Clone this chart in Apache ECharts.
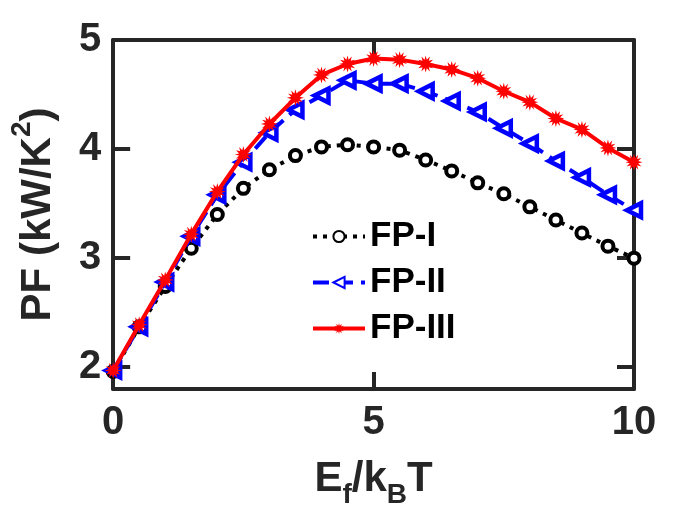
<!DOCTYPE html>
<html>
<head>
<meta charset="utf-8">
<script src="https://cdn.jsdelivr.net/npm/echarts@6/dist/echarts.min.js"></script>
<style>
  html, body { margin: 0; padding: 0; background: #fff; }
  #chart { width: 700px; height: 525px; }
</style>
</head>
<body>
<div id="chart"></div>
<script>
// E_f/k_BT sampling
var xs = [0, 0.5, 1, 1.5, 2, 2.5, 3, 3.5, 4, 4.5, 5, 5.5, 6, 6.5, 7, 7.5, 8, 8.5, 9, 9.5, 10];

// PF values
var fp1 = [1.96, 2.37, 2.74, 3.09, 3.40, 3.64, 3.81, 3.94, 4.02, 4.04, 4.02, 3.99, 3.90, 3.80, 3.69, 3.59, 3.47, 3.35, 3.23, 3.11, 3.00];
var fp2 = [1.97, 2.37, 2.78, 3.20, 3.58, 3.88, 4.15, 4.36, 4.49, 4.63, 4.60, 4.60, 4.53, 4.44, 4.34, 4.19, 4.05, 3.89, 3.74, 3.58, 3.44];
var fp3 = [1.97, 2.39, 2.80, 3.22, 3.61, 3.95, 4.23, 4.47, 4.68, 4.78, 4.83, 4.82, 4.78, 4.73, 4.65, 4.53, 4.43, 4.28, 4.18, 4.01, 3.88];

var xTicks = [0, 5, 10];
var yTicks = [2, 3, 4, 5];

var axisColor = '#262626';
var font = 'Liberation Sans, Arial, sans-serif';

function pairs(ys) {
  return xs.map(function (x, i) { return [x, ys[i]]; });
}

// 12-spike star standing in for the asterisk markers
var starPath = 'path://M20 10 L15 11.3 L18.7 15 L13.7 13.7 L15 18.7 L11.3 15 L10 20 L8.7 15 L5 18.7 L6.3 13.7 L1.3 15 L5 11.3 L0 10 L5 8.7 L1.3 5 L6.3 6.3 L5 1.3 L8.7 5 L10 0 L11.3 5 L15 1.3 L13.7 6.3 L18.7 5 L15 8.7 Z';

function axisBase(pos, showLabel) {
  return {
    type: 'value',
    position: pos,
    axisLine: { show: true, onZero: false, lineStyle: { color: axisColor, width: 4 } },
    axisTick: { show: true, inside: true, length: 17, lineStyle: { color: axisColor, width: 4 } },
    splitLine: { show: false },
    axisLabel: {
      show: showLabel,
      color: axisColor,
      fontFamily: font,
      fontWeight: 'bold',
      fontSize: 40
    }
  };
}

var xBottom = axisBase('bottom', true);
xBottom.min = 0; xBottom.max = 10; xBottom.interval = 5;
xBottom.axisLabel.margin = 14;
xBottom.name = 'E{sub|f}/k{sub|B}T';
xBottom.nameLocation = 'middle';
xBottom.nameGap = 60;
xBottom.nameTextStyle = {
  color: axisColor, fontFamily: font, fontWeight: 'bold', fontSize: 42, lineHeight: 60,
  rich: {
    sub: { fontFamily: font, fontWeight: 'bold', fontSize: 28, lineHeight: 28, verticalAlign: 'bottom', color: axisColor }
  }
};

var xTop = axisBase('top', false);
xTop.min = 0; xTop.max = 10; xTop.interval = 5;

var yLeft = axisBase('left', true);
yLeft.min = 1.8; yLeft.max = 5;
yLeft.axisTick.customValues = yTicks;
yLeft.axisLabel.customValues = yTicks;
yLeft.axisLabel.margin = 12;
yLeft.name = 'PF (kW/K{sup|2})';
yLeft.nameLocation = 'middle';
yLeft.nameGap = 30;
yLeft.nameTextStyle = {
  color: axisColor, fontFamily: font, fontWeight: 'bold', fontSize: 42, lineHeight: 60,
  rich: {
    sup: { fontFamily: font, fontWeight: 'bold', fontSize: 28, lineHeight: 28, verticalAlign: 'top', color: axisColor }
  }
};

var yRight = axisBase('right', false);
yRight.min = 1.8; yRight.max = 5;
yRight.axisTick.customValues = yTicks;
yRight.axisLabel.customValues = yTicks;

var chart = echarts.init(document.getElementById('chart'));
chart.setOption({
  animation: false,
  backgroundColor: '#fff',
  grid: { left: 104, right: 66, top: 40, bottom: 136, containLabel: false },
  xAxis: [xBottom, xTop],
  yAxis: [yLeft, yRight],
  legend: {
    orient: 'vertical',
    left: 306,
    top: 214,
    itemWidth: 52,
    itemHeight: 14,
    itemGap: 11,
    lineStyle: { width: 4 },
    textStyle: { color: '#000', fontFamily: font, fontWeight: 'bold', fontSize: 35 },
    data: ['FP-I', 'FP-II', 'FP-III']
  },
  series: [
    {
      name: 'FP-I',
      type: 'line',
      data: pairs(fp1),
      symbol: 'circle',
      symbolSize: 11,
      lineStyle: { color: '#000', width: 4, type: [4, 6] },
      itemStyle: { color: '#fff', borderColor: '#000', borderWidth: 4 },
      z: 2
    },
    {
      name: 'FP-II',
      type: 'line',
      data: pairs(fp2),
      symbol: 'triangle',
      symbolRotate: 90,
      symbolSize: 14,
      lineStyle: { color: '#0000ff', width: 4, type: [16, 8] },
      itemStyle: { color: '#fff', borderColor: '#0000ff', borderWidth: 4.5 },
      z: 3
    },
    {
      name: 'FP-III',
      type: 'line',
      data: pairs(fp3),
      symbol: starPath,
      symbolSize: 17,
      lineStyle: { color: '#ff0000', width: 4 },
      itemStyle: { color: '#ff0000' },
      z: 4
    }
  ]
});
</script>
</body>
</html>
